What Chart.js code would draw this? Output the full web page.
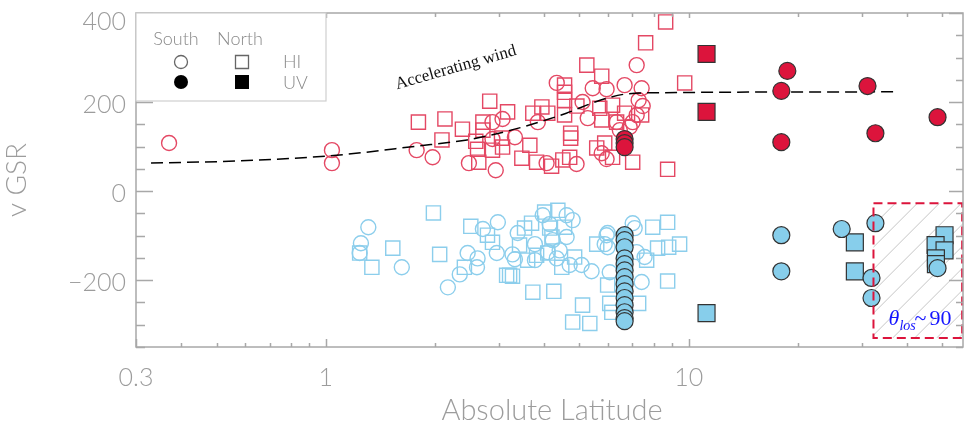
<!DOCTYPE html>
<html>
<head>
<meta charset="utf-8">
<script src="https://cdn.jsdelivr.net/npm/chart.js@4.4.1/dist/chart.umd.min.js"></script>
<style>
  html, body { margin: 0; padding: 0; background: #fff; }
  #wrap { width: 965px; height: 425px; }
</style>
</head>
<body>
<div id="wrap"><canvas id="chart" width="965" height="425"></canvas></div>
<script>
// HI (open) and UV (filled) velocities vs absolute latitude, [lat, vGSR]
const hiSouthRed = [[0.37,108],[1.04,92],[1.04,63],[1.78,92],[1.97,76],[2.48,63],[2.94,47],[2.88,155],[3.07,162],[2.88,117],
  [3.32,121],[3.84,155],[4.06,63],[4.33,243],[4.91,61],[5.10,200],[5.27,164],[5.44,231],[5.94,229],[6.33,155],[5.76,85],
  [5.94,72],[6.66,238],[7.19,283],[7.42,231],[7.28,204],[7.47,191],[7.19,171],[6.88,144],[6.46,137],[7.01,155]];
const hiNorthRed = [[1.80,155],[2.13,162],[2.38,139],[2.09,115],[2.59,112],[2.62,94],[2.83,202],[3.17,178],[3.72,175],[3.94,189],
  [4.09,175],[4.55,238],[4.55,222],[4.55,204],[5.24,283],[5.76,258],[6.17,193],[5.76,160],[4.55,171],[4.73,130],[4.73,119],
  [4.92,191],[2.71,155],[2.71,137],[2.88,92],[3.07,99],[3.05,119],[3.65,103],[3.47,74],[2.64,65],[3.81,65],[4.19,56],[4.50,70],
  [4.70,76],[5.58,97],[5.87,108],[6.17,76],[7.01,65],[8.64,380],[7.61,333],[9.75,243],[8.75,49],[5.69,186],[6.66,175],[7.42,171],[6.33,155]];
const uvSouthRed = [[6.66,117],[6.66,108],[6.66,99],[18.7,270],[18.0,225],[18.0,110],[31.1,236],[32.7,130],[48.5,166]];
const uvNorthRed = [[11.2,308],[11.2,178]];

const hiSouthBlue = [[1.31,-81],[1.25,-117],[1.24,-139],[1.62,-171],[2.17,-216],[2.34,-187],[2.46,-139],[2.62,-151],[2.61,-171],
  [2.71,-85],[2.98,-70],[2.96,-139],[3.38,-94],[3.27,-142],[3.32,-153],[3.77,-119],[3.96,-54],[4.14,-74],[4.61,-54],[4.79,-65],
  [4.22,-110],[4.61,-103],[3.77,-155],[4.09,-137],[4.41,-133],[4.33,-151],[4.70,-166],[5.07,-166],[5.40,-180],[5.94,-99],
  [5.98,-126],[6.06,-182],[7.01,-72],[5.98,-94],[5.87,-119],[7.19,-137],[7.56,-148],[7.42,-204],[7.10,-83]];
const hiNorthBlue = [[1.98,-49],[2.51,-79],[2.79,-99],[1.53,-128],[1.24,-139],[1.34,-171],[2.06,-142],[2.41,-171],[2.88,-115],
  [3.53,-83],[3.69,-72],[4.01,-47],[4.36,-43],[4.14,-83],[4.55,-81],[3.42,-121],[3.81,-144],[3.60,-155],[4.09,-139],[4.85,-148],
  [4.47,-171],[3.15,-189],[3.21,-189],[3.27,-191],[3.72,-227],[4.25,-225],[5.10,-256],[4.79,-294],[5.34,-297],[5.58,-119],
  [5.98,-211],[6.06,-252],[6.14,-272],[7.96,-81],[8.75,-70],[8.81,-126],[9.44,-119],[8.21,-128],[7.66,-155],[8.75,-202],
  [7.28,-252],[4.20,-103]];
const uvSouthBlue = [[6.66,-99],[6.66,-110],[6.66,-126],[6.66,-151],[6.66,-164],[6.66,-178],[6.66,-193],[6.66,-209],[6.66,-225],
  [6.66,-240],[6.66,-256],[6.66,-272],[6.66,-285],[6.66,-292],[18.0,-99],[18.0,-180],[26.4,-85],[32.7,-72],[31.9,-195],
  [31.9,-240],[48.5,-173]];
const uvNorthBlue = [[11.2,-274],[28.7,-115],[28.7,-180],[50.7,-99],[47.9,-121],[50.7,-133],[48.0,-151],[48.0,-164]];

// accelerating wind curve
const windLat = [0.33, 0.58, 1.05, 1.78, 2.45, 3.0, 3.7, 4.6, 5.7, 6.7, 8.3, 38];
const windV   = [63, 68, 80, 101, 115, 130, 150, 175, 204, 218, 221, 223];

const xTicks = [0.3, 1, 10];
const xMinor = [0.4, 0.5, 0.6, 0.7, 0.8, 0.9, 2, 3, 4, 5, 6, 7, 8, 9, 20, 30, 40, 50];
const yTicks = [-200, 0, 200, 400];
const yMinor = [-350, -300, -250, -150, -100, -50, 50, 100, 150, 250, 300, 350];
const losBox = { xMin: 32.3, xMax: 56.7, yMin: -330, yMax: -27 };

const CRIMSON = '#dc143c';
const SKY = '#87ceeb';
const AXIS = '#a8a8a8';
const TXT = '#9c9c9c';
const SANS = 'Lato, "DejaVu Sans", sans-serif';
const SERIF = '"Liberation Serif", "DejaVu Serif", serif';

const pts = arr => arr.map(p => ({ x: p[0], y: p[1] }));

function openSet(label, data, style, color, r) {
  return { label, data: pts(data), pointStyle: style, pointRadius: r, pointBorderWidth: 1.4,
    pointBorderColor: color, pointBackgroundColor: 'rgba(0,0,0,0)', order: 3 };
}
function filledSet(label, data, style, color, r) {
  return { label, data: pts(data), pointStyle: style, pointRadius: r, pointBorderWidth: 1.2,
    pointBorderColor: '#333', pointBackgroundColor: color, order: 1 };
}

function marker(ctx, style, x, y, r, fill, stroke) {
  ctx.beginPath();
  if (style === 'circle') ctx.arc(x, y, r, 0, Math.PI * 2);
  else ctx.rect(x - r, y - r, 2 * r, 2 * r);
  if (fill) { ctx.fillStyle = fill; ctx.fill(); }
  if (stroke) { ctx.strokeStyle = stroke; ctx.lineWidth = 1.3; ctx.stroke(); }
}

const framePlugin = {
  id: 'frame',
  beforeDatasetsDraw(chart) {
    const { ctx, scales: { x, y } } = chart;
    const x0 = x.getPixelForValue(losBox.xMin), x1 = x.getPixelForValue(losBox.xMax);
    const y0 = y.getPixelForValue(losBox.yMax), y1 = y.getPixelForValue(losBox.yMin);
    ctx.save();
    ctx.beginPath();
    ctx.rect(x0, y0, x1 - x0, y1 - y0);
    ctx.clip();
    ctx.strokeStyle = '#b8b8b8';
    ctx.lineWidth = 0.8;
    const h = y1 - y0;
    for (let k = -h; k < x1 - x0; k += 22) {
      ctx.beginPath();
      ctx.moveTo(x0 + k, y1);
      ctx.lineTo(x0 + k + h, y0);
      ctx.stroke();
    }
    ctx.restore();
  },
  afterDatasetsDraw(chart) {
    const { ctx, chartArea: a, scales: { x, y } } = chart;
    ctx.save();

    // theta_los box
    const x0 = x.getPixelForValue(losBox.xMin), x1 = x.getPixelForValue(losBox.xMax);
    const y0 = y.getPixelForValue(losBox.yMax), y1 = y.getPixelForValue(losBox.yMin);
    ctx.setLineDash([9, 5]);
    ctx.strokeStyle = CRIMSON;
    ctx.lineWidth = 2;
    ctx.strokeRect(x0, y0, x1 - x0, y1 - y0);
    ctx.setLineDash([]);

    ctx.fillStyle = '#1414ff';
    ctx.textBaseline = 'alphabetic';
    ctx.textAlign = 'left';
    ctx.font = 'italic 22px ' + SERIF;
    ctx.fillText('θ', x0 + 15, y1 - 13);
    ctx.font = 'italic 14px ' + SERIF;
    ctx.fillText('los', x0 + 26, y1 - 8);
    ctx.font = '22px ' + SERIF;
    ctx.fillText('~', x0 + 41, y1 - 13);
    ctx.fillText('90', x0 + 56, y1 - 13);

    // annotation
    ctx.save();
    ctx.translate(457, 72);
    ctx.rotate(-16 * Math.PI / 180);
    ctx.fillStyle = '#111';
    ctx.font = '17px ' + SERIF;
    ctx.textAlign = 'center';
    ctx.fillText('Accelerating wind', 0, 0);
    ctx.restore();

    // frame
    ctx.strokeStyle = AXIS;
    ctx.lineWidth = 1.5;
    ctx.strokeRect(a.left, a.top, a.right - a.left, a.bottom - a.top);
    ctx.beginPath();
    yTicks.forEach(v => {
      const p = Math.round(y.getPixelForValue(v)) + 0.5;
      ctx.moveTo(a.left, p); ctx.lineTo(a.left + 17, p);
      ctx.moveTo(a.right, p); ctx.lineTo(a.right - 14, p);
    });
    yMinor.forEach(v => {
      const p = Math.round(y.getPixelForValue(v)) + 0.5;
      ctx.moveTo(a.left, p); ctx.lineTo(a.left + 9, p);
      ctx.moveTo(a.right, p); ctx.lineTo(a.right - 7, p);
    });
    xTicks.forEach(v => {
      const p = Math.round(x.getPixelForValue(v)) + 0.5;
      ctx.moveTo(p, a.bottom); ctx.lineTo(p, a.bottom - 8);
      ctx.moveTo(p, a.top); ctx.lineTo(p, a.top + 5);
    });
    xMinor.forEach(v => {
      const p = Math.round(x.getPixelForValue(v)) + 0.5;
      ctx.moveTo(p, a.bottom); ctx.lineTo(p, a.bottom - 4);
      ctx.moveTo(p, a.top); ctx.lineTo(p, a.top + 4);
    });
    ctx.stroke();

    // tick labels
    ctx.fillStyle = TXT;
    ctx.font = '300 25px ' + SANS;
    ctx.textAlign = 'right';
    ctx.textBaseline = 'middle';
    yTicks.forEach(v => {
      const p = Math.max(y.getPixelForValue(v) + 3, 22);
      ctx.fillText(v < 0 ? '\u2212' + Math.abs(v) : String(v), a.left - 10, p);
    });
    ctx.textAlign = 'center';
    xTicks.forEach(v => ctx.fillText(String(v), x.getPixelForValue(v), 378));

    // axis titles
    ctx.font = '300 29px ' + SANS;
    ctx.fillText('Absolute Latitude', 552, 411);
    ctx.save();
    ctx.translate(17, (a.top + a.bottom) / 2);
    ctx.rotate(-Math.PI / 2);
    ctx.font = '300 28px ' + SANS;
    ctx.fillText('v GSR', 0, 0);
    ctx.restore();

    // legend
    ctx.fillStyle = '#fff';
    ctx.fillRect(a.left, a.top, 190, 88);
    ctx.strokeStyle = '#cfcfcf';
    ctx.lineWidth = 1.2;
    ctx.strokeRect(a.left, a.top, 190, 88);
    ctx.fillStyle = '#8a8a8a';
    ctx.font = '300 18px ' + SANS;
    ctx.textAlign = 'center';
    ctx.fillText('South', a.left + 40, a.top + 26);
    ctx.fillText('North', a.left + 104, a.top + 26);
    ctx.textAlign = 'left';
    ctx.fillText('HI', a.left + 147, a.top + 49);
    ctx.fillText('UV', a.left + 147, a.top + 70);
    marker(ctx, 'circle', a.left + 45, a.top + 49, 6.5, null, '#666');
    marker(ctx, 'rect', a.left + 106, a.top + 49, 6.5, null, '#666');
    marker(ctx, 'circle', a.left + 45, a.top + 69, 7, '#000', null);
    marker(ctx, 'rect', a.left + 106, a.top + 69, 7, '#000', null);

    ctx.restore();
  }
};

new Chart(document.getElementById('chart'), {
  type: 'scatter',
  data: {
    datasets: [
      openSet('HI South (red)', hiSouthRed, 'circle', 'rgb(228,72,100)', 7.5),
      openSet('HI North (red)', hiNorthRed, 'rect', 'rgb(228,72,100)', 10),
      openSet('HI South (blue)', hiSouthBlue, 'circle', 'rgb(140,206,236)', 7.5),
      openSet('HI North (blue)', hiNorthBlue, 'rect', 'rgb(140,206,236)', 10),
      {
        label: 'Accelerating wind',
        data: windLat.map((v, i) => ({ x: v, y: windV[i] })),
        showLine: true,
        borderColor: '#000',
        borderWidth: 1.5,
        borderDash: [12, 6],
        pointRadius: 0,
        cubicInterpolationMode: 'monotone',
        order: 2
      },
      filledSet('UV South (red)', uvSouthRed, 'circle', CRIMSON, 8.5),
      filledSet('UV North (red)', uvNorthRed, 'rect', CRIMSON, 12),
      filledSet('UV South (blue)', uvSouthBlue, 'circle', SKY, 8.5),
      filledSet('UV North (blue)', uvNorthBlue, 'rect', SKY, 12)
    ]
  },
  options: {
    responsive: false,
    animation: false,
    devicePixelRatio: 1,
    layout: { autoPadding: false, padding: { left: 136, top: 13, right: 2, bottom: 78 } },
    plugins: { legend: { display: false }, tooltip: { enabled: false } },
    scales: {
      x: { type: 'logarithmic', min: 0.3, max: 57, display: false },
      y: { type: 'linear', min: -350, max: 400, display: false }
    }
  },
  plugins: [framePlugin]
});
</script>
</body>
</html>
